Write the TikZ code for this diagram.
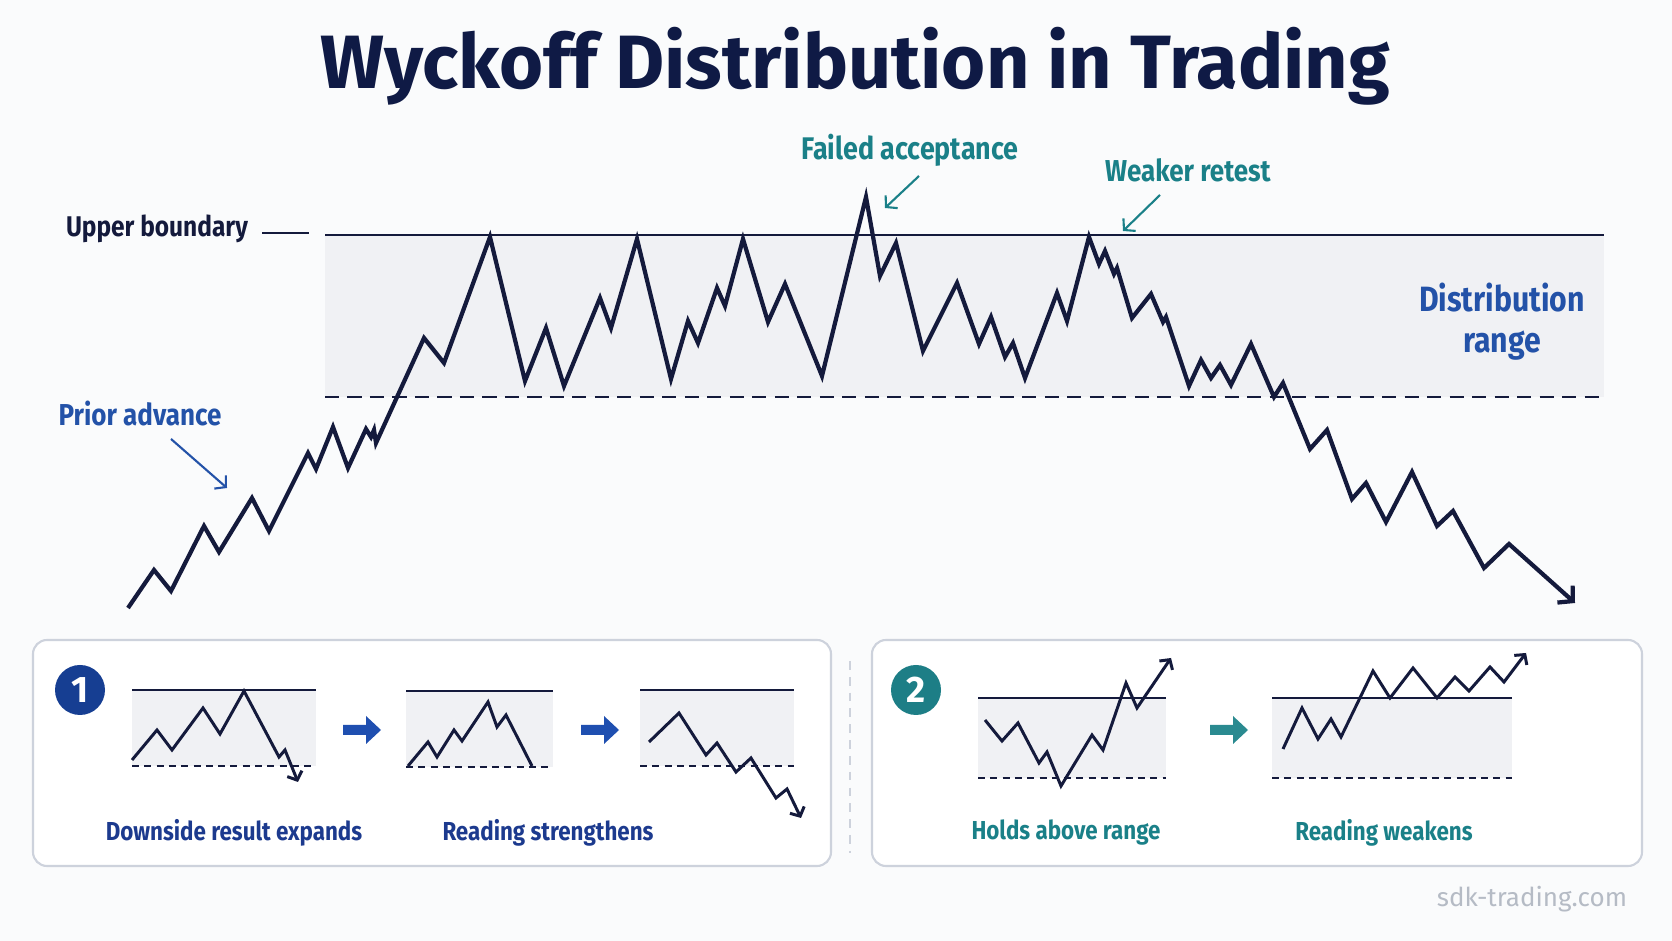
\documentclass[tikz,border=0pt]{standalone}
\usepackage{fontspec}
\setmainfont{Fira Sans}
\newfontfamily\labfont{Fira Sans}[FakeStretch=0.86]
\usepackage{xcolor}
\usepackage{tikz}
\usetikzlibrary{arrows.meta}
\definecolor{navy}{HTML}{141A3C}
\definecolor{headnavy}{HTML}{0F1A45}
\definecolor{labblue}{HTML}{2352A8}
\definecolor{capblue}{HTML}{1C3A8E}
\definecolor{labteal}{HTML}{1A8088}
\definecolor{zonegray}{HTML}{F0F1F4}
\definecolor{paneledge}{HTML}{CDD2DC}
\definecolor{badgeblue}{HTML}{163E92}
\definecolor{badgeteal}{HTML}{1D7E86}
\definecolor{flowblue}{HTML}{1F4FB0}
\definecolor{flowteal}{HTML}{2A8A90}
\definecolor{paper}{HTML}{FAFBFC}
\definecolor{markgray}{HTML}{B5BBC5}

\begin{document}
\begin{tikzpicture}[x=0.1mm, y=-0.1mm,
                    >={Straight Barb[length=3pt, width=6.5pt]}, line join=miter]
\tikzstyle{price}=[draw=navy, line width=1.2pt]
\tikzstyle{mini}=[draw=navy, line width=0.85pt,
                    >={Straight Barb[length=2pt, width=4.5pt]}]
\tikzstyle{upper}=[draw=navy, line width=0.75pt]
\tikzstyle{lower}=[draw=navy, line width=0.75pt, dash pattern=on 4pt off 2.4pt]
\tikzstyle{minilow}=[draw=navy, line width=0.6pt, dash pattern=on 2pt off 1.5pt]
\tikzstyle{zone}=[fill=zonegray]
\tikzstyle{note}=[font=\labfont\bfseries\fontsize{8.6}{10}\selectfont]
\tikzstyle{pointer}=[->, line width=0.6pt,
                    >={Straight Barb[length=2.2pt, width=5pt]}]
\tikzstyle{caption}=[font=\labfont\bfseries\fontsize{7.4}{9}\selectfont]
\tikzstyle{panel}=[draw=paneledge, line width=0.6pt, fill=white, rounded corners=1.4mm]
\tikzstyle{badge}=[circle, minimum size=5mm, inner sep=0pt, text=white,
                    font=\bfseries\fontsize{10.5}{11}\selectfont]

  \fill[paper] (0,0) rectangle (1672,941);
  \useasboundingbox (0,0) rectangle (1672,941);

  \node[font=\bfseries\fontsize{21.5}{24}\selectfont, text=headnavy] (title) at (855,66) {Wyckoff Distribution in Trading};

  \fill[zone] (325,235) rectangle (1604,397);
  \draw[upper] (325,235) -- (1604,235);
  \draw[lower] (325,397) -- (1604,397);

  \node[note, text=navy, font=\labfont\bfseries\fontsize{8.1}{10}\selectfont] (upper) at (157,229) {Upper boundary};
  \coordinate (ub end) at (309,233);
  \draw[navy, line width=0.5pt] ([xshift=0.2mm]upper.east |- ub end) -- (ub end);

  \node[note, text=labblue] (prior) at (140,414) {Prior advance};
  \node[note, text=labteal, font=\labfont\bfseries\fontsize{8.9}{10}\selectfont] (failed) at (910,150) {Failed acceptance};
  \node[note, text=labteal] (retest) at (1188,170) {Weaker retest};
  \node[note, text=labblue, font=\labfont\bfseries\fontsize{10}{11.7}\selectfont, align=center] (range) at (1502,322) {Distribution\\range};

  \coordinate (prior tail) at (171,439);
  \coordinate (prior head) at (227,488);
  \coordinate (failed tail) at (919,176);
  \coordinate (failed head) at (885,208);
  \coordinate (retest tail) at (1160,195);
  \coordinate (retest head) at (1123,231);
  \draw[pointer, draw=labblue] (prior tail) -- (prior head);
  \draw[pointer, draw=labteal] (failed tail) -- (failed head);
  \draw[pointer, draw=labteal] (retest tail) -- (retest head);

  \draw[price, ->] (128,608) -- (154,570) -- (171,591) -- (204,526) -- (219,552) -- (252,498)
    -- (269,531) -- (308,453) -- (316,469) -- (333,427) -- (348,468) -- (366,429) -- (371,437)
    -- (374,430) -- (376,443) -- (424,338) -- (444,363) -- (490,237) -- (525,381) -- (546,328)
    -- (564,386) -- (600,298) -- (611,328) -- (637,239) -- (671,379) -- (688,321) -- (698,343)
    -- (717,288) -- (725,306) -- (743,239) -- (768,322) -- (785,284) -- (822,376) -- (866,197)
    -- (880,276) -- (896,243) -- (923,351) -- (957,283) -- (979,344) -- (991,317) -- (1005,357)
    -- (1013,343) -- (1025,378) -- (1057,293) -- (1067,321) -- (1089,237) -- (1099,264)
    -- (1105,251) -- (1114,274) -- (1117,268) -- (1132,318) -- (1151,294) -- (1163,322)
    -- (1166,317) -- (1189,386) -- (1201,360) -- (1211,378) -- (1220,365) -- (1231,385)
    -- (1251,344) -- (1274,397) -- (1283,383) -- (1310,449) -- (1327,430) -- (1352,499)
    -- (1366,483) -- (1386,522) -- (1412,472) -- (1437,526) -- (1453,511) -- (1484,568)
    -- (1509,544) -- (1575,603);

  \draw[panel] (33,640) rectangle (831,866);
  \draw[panel] (872,640) rectangle (1642,866);
  \draw[paneledge, line width=0.6pt, dash pattern=on 2.5pt off 2pt] (850,661) -- (850,853);

  \node[badge, fill=badgeblue] (one) at (80,690) {1};
  \node[badge, fill=badgeteal] (two) at (916,690) {2};

  \fill[zone] (132,690) rectangle (316,766);
  \draw[upper] (132,690) -- (316,690);
  \draw[minilow] (132,766) -- (316,766);
  \draw[mini, ->] (132,760) -- (157,730) -- (172,750) -- (203,708) -- (220,734) -- (244,691)
    -- (279,757) -- (285,750) -- (298,782);

  \fill[zone] (406,691) rectangle (553,767);
  \draw[upper] (406,691) -- (553,691);
  \draw[minilow] (406,767) -- (553,767);
  \draw[mini] (408,766) -- (428,742) -- (437,757) -- (454,730) -- (462,741) -- (488,702)
    -- (497,727) -- (506,715) -- (532,766);

  \fill[zone] (640,690) rectangle (794,766);
  \draw[upper] (640,690) -- (794,690);
  \draw[minilow] (640,766) -- (794,766);
  \draw[mini, ->] (649,742) -- (679,713) -- (706,755) -- (717,743) -- (736,772) -- (751,758)
    -- (776,798) -- (787,789) -- (801,818);

  \fill[zone] (978,698) rectangle (1166,778);
  \draw[upper] (978,698) -- (1166,698);
  \draw[minilow] (978,778) -- (1166,778);
  \draw[mini, ->] (985,720) -- (1002,741) -- (1018,723) -- (1039,763) -- (1047,752)
    -- (1061,786) -- (1092,735) -- (1103,750) -- (1126,683) -- (1137,708) -- (1171,658);

  \fill[zone] (1272,698) rectangle (1512,778);
  \draw[upper] (1272,698) -- (1512,698);
  \draw[minilow] (1272,778) -- (1512,778);
  \draw[mini, ->] (1283,749) -- (1302,708) -- (1318,739) -- (1331,719) -- (1341,737)
    -- (1373,671) -- (1390,698) -- (1413,668) -- (1437,698) -- (1455,677) -- (1469,691)
    -- (1490,667) -- (1504,682) -- (1526,653);

  \fill[flowblue] (343,725) -- (366,725) -- (366,716) -- (381,730) -- (366,744) -- (366,735) -- (343,735) -- cycle;
  \fill[flowblue] (581,725) -- (604,725) -- (604,716) -- (619,730) -- (604,744) -- (604,735) -- (581,735) -- cycle;
  \fill[flowteal] (1210,725) -- (1233,725) -- (1233,716) -- (1248,730) -- (1233,744) -- (1233,735) -- (1210,735) -- cycle;

  \node[caption, text=capblue] (expands) at (234,833) {Downside result expands};
  \node[caption, text=capblue] (strengthens) at (548,833) {Reading strengthens};
  \node[caption, text=labteal] (holds) at (1066,833) {Holds above range};
  \node[caption, text=labteal] (weakens) at (1384,833) {Reading weakens};

  \node[text=markgray, font=\fontsize{7.4}{9}\selectfont] (site) at (1532,899) {sdk-trading.com};
\end{tikzpicture}
\end{document}
